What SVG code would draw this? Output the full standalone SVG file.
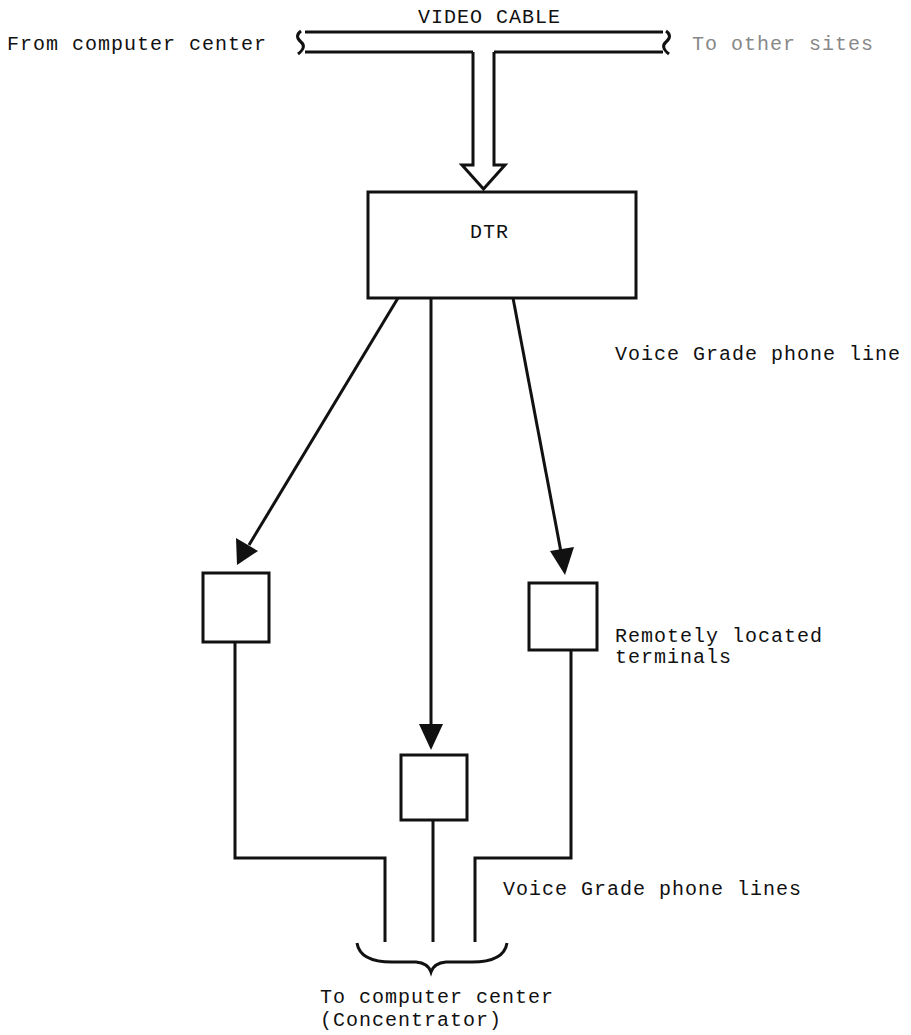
<svg xmlns="http://www.w3.org/2000/svg" width="911" height="1035" viewBox="0 0 911 1035">
<defs>
<style>
.t{font-family:"Liberation Mono","DejaVu Sans Mono",monospace;font-size:20px;letter-spacing:1px;fill:#111}
.faded{fill:#888}
.ln{fill:none;stroke:#111;stroke-width:3;stroke-linejoin:miter}
.bx{fill:#fff;stroke:#111;stroke-width:3}
.hd{fill:#111;stroke:none}
</style>
</defs>
<rect width="911" height="1035" fill="#fff"/>

<g id="labels">
<text class="t" x="7" y="50">From computer center</text>
<text class="t" x="418" y="23">VIDEO CABLE</text>
<text class="t faded" x="692" y="50">To other sites</text>
<text class="t" x="615" y="360">Voice Grade phone line</text>
<text class="t" x="615" y="642">Remotely located</text>
<text class="t" x="615" y="663">terminals</text>
<text class="t" x="503" y="895">Voice Grade phone lines</text>
<text class="t" x="320" y="1003">To computer center</text>
<text class="t" x="320" y="1026">(Concentrator)</text>
</g>

<g id="video-cable">
<path class="ln" d="M305,32 H663 M305,52 H473 M494,52 H663"/>
<path class="ln" d="M301,31 q-7,5 0,11 q6,5 -3,12"/>
<path class="ln" d="M666,31 q7,5 0,11 q-6,5 3,12"/>
</g>

<g id="dtr">
<rect class="bx" x="368" y="192" width="268" height="106"/>
<text class="t" x="470" y="238">DTR</text>
</g>

<g id="terminal-left">
<rect class="bx" x="203" y="573" width="66" height="69"/>
</g>
<g id="terminal-right">
<rect class="bx" x="529" y="583" width="68" height="67"/>
</g>
<g id="terminal-center">
<rect class="bx" x="401" y="755" width="66" height="65"/>
</g>

<g id="connectors">
<path class="ln" d="M473,52 V165 H462 L483.5,189 L505,165 H494 V52"/>
<line class="ln" x1="398" y1="298" x2="249" y2="545"/>
<polygon class="hd" points="237,565 236,538 258,551"/>
<line class="ln" x1="513" y1="298" x2="561" y2="552"/>
<polygon class="hd" points="565,575 550,551 574,547"/>
<line class="ln" x1="431" y1="298" x2="431" y2="728"/>
<polygon class="hd" points="431,750 419,724 443,724"/>
<path class="ln" d="M235,642 V858 H385 V942"/>
<path class="ln" d="M433,820 V942"/>
<path class="ln" d="M571,650 V858 H475 V942"/>
<path class="ln" d="M357,943 Q360,962 392,962 L416,962 Q428,963 431,972 Q434,963 446,962 L472,962 Q504,962 507,943"/>
</g>
</svg>
